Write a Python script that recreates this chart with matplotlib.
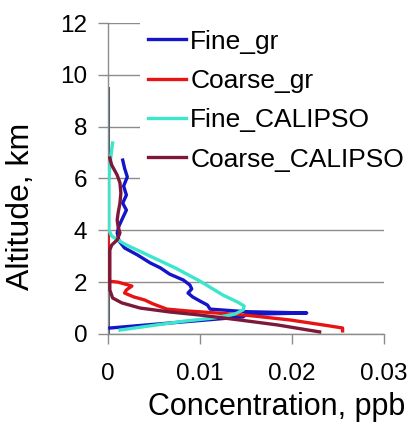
import matplotlib
matplotlib.use('Agg')
import matplotlib.pyplot as plt

plt.rcParams['font.family'] = ['Liberation Sans', 'DejaVu Sans']

# altitude, km  /  concentration, ppb
fine_gr_alt = [0.23, 0.66, 0.76, 0.81, 0.86, 0.96, 1.12, 1.27, 1.43, 1.58, 1.74, 1.89, 2.08, 2.31, 2.55,
               2.74, 3.05, 3.32, 3.59, 3.9, 4.17, 4.48, 4.78, 5.05, 5.36, 5.71, 6.06, 6.4, 6.71]
fine_gr = [0.0002, 0.0147, 0.0150, 0.0216, 0.0150, 0.0111, 0.0108, 0.0100, 0.0092, 0.0087, 0.0091, 0.0089,
           0.0082, 0.0067, 0.0057, 0.0046, 0.0032, 0.0018, 0.0012, 0.0010, 0.0012, 0.0016, 0.0020, 0.0016,
           0.0020, 0.0017, 0.0021, 0.0018, 0.0016]

coarse_gr_alt = [4.0, 2.04, 2.0, 1.85, 1.7, 1.58, 1.43, 1.31, 1.16, 0.96, 0.89, 0.81, 0.73, 0.54, 0.31, 0.23, 0.12]
coarse_gr = [0.0, 0.0, 0.0011, 0.0026, 0.0020, 0.0018, 0.0028, 0.0040, 0.0049, 0.0064, 0.0086, 0.0118,
             0.0149, 0.0198, 0.0241, 0.0255, 0.0255]

fine_cal_alt = [7.37, 7.1, 6.52, 5.94, 4.0, 3.78, 3.47, 3.0, 2.55, 2.04, 1.5, 1.23, 1.08, 0.93, 0.77, 0.62,
                0.5, 0.35, 0.15]
fine_cal = [0.0005, 0.0004, 0.0002, 0.0001, 0.0001, 0.0004, 0.0018, 0.0046, 0.0073, 0.0100, 0.0125, 0.0141,
            0.0148, 0.0147, 0.0138, 0.0116, 0.0084, 0.0053, 0.0013]

coarse_cal_alt = [6.79, 6.52, 6.13, 5.83, 5.44, 5.05, 4.67, 4.4, 4.13, 3.9, 3.63, 3.43, 3.24, 1.7, 1.39, 1.2,
                  1.0, 0.85, 0.73, 0.54, 0.35, 0.08]
coarse_cal = [0.0002, 0.0004, 0.0010, 0.0013, 0.0014, 0.0013, 0.0011, 0.0010, 0.0011, 0.0013, 0.0010, 0.0004,
              0.0002, 0.0002, 0.0005, 0.0015, 0.0035, 0.0067, 0.0100, 0.0143, 0.0184, 0.0230]

# dark trace sitting on the axis
zero_alt = [0.0, 9.5]
zero_val = [0.0, 0.0]

x_ticks = [0, 0.01, 0.02, 0.03]
x_tick_labels = ['0', '0.01', '0.02', '0.03']
y_ticks = [0, 2, 4, 6, 8, 10, 12]

fig = plt.figure(figsize=(4.1, 4.3), dpi=100)
ax = fig.add_axes([0.2634, 0.2233, 0.6732, 0.7232])

ax.plot(zero_val, zero_alt, color='#4a5866', lw=2.2, zorder=2)
ax.plot(fine_gr, fine_gr_alt, color='#1414c8', lw=2.4, label='Fine_gr', zorder=3)
ax.plot(coarse_gr, coarse_gr_alt, color='#e81414', lw=2.4, label='Coarse_gr', zorder=3)
ax.plot(fine_cal, fine_cal_alt, color='#3ce6cc', lw=2.4, label='Fine_CALIPSO', zorder=3)
ax.plot(coarse_cal, coarse_cal_alt, color='#7d1838', lw=2.4, label='Coarse_CALIPSO', zorder=3)

ax.set_xlim(0, 0.03)
ax.set_ylim(0, 12)
ax.set_xticks(x_ticks)
ax.set_xticklabels(x_tick_labels)
ax.set_yticks(y_ticks)
ax.grid(axis='y', color='#8c8c8c', lw=1.0)
ax.set_axisbelow(True)
for s in ['top', 'right']:
    ax.spines[s].set_visible(False)
for s in ['left', 'bottom']:
    ax.spines[s].set_color('#8c8c8c')
    ax.spines[s].set_linewidth(1.0)
ax.tick_params(axis='both', colors='#8c8c8c', labelcolor='black', labelsize=17.5, length=7, width=1.0)
ax.tick_params(axis='y', pad=8)
ax.tick_params(axis='x', pad=14)

ax.set_xlabel('Concentration, ppb', fontsize=22)
ax.set_ylabel('Altitude, km', fontsize=23)
ax.xaxis.set_label_coords(0.612, -0.185)
ax.yaxis.set_label_coords(-0.262, 0.41)

leg = ax.legend(loc='upper left', bbox_to_anchor=(0.116, 1.004), borderaxespad=0, borderpad=0.3,
                frameon=True, fancybox=False, framealpha=1, facecolor='white', edgecolor='none',
                fontsize=19, handlelength=1.45, handletextpad=0.15, labelspacing=0.58)

fig.savefig('out.png', dpi=100)
